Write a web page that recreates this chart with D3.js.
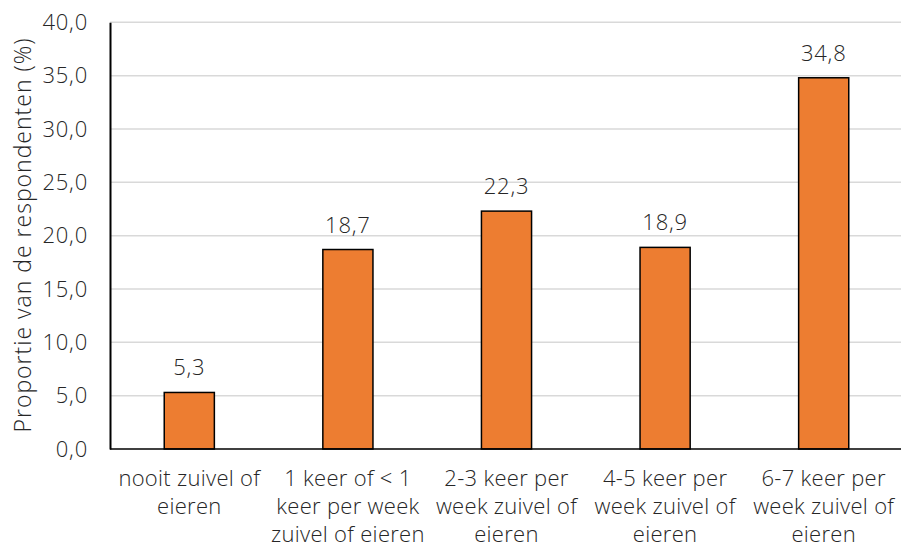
<!DOCTYPE html>
<html><head><meta charset="utf-8">
<script src="https://cdn.jsdelivr.net/npm/d3@7/dist/d3.min.js"></script>
<style>body{margin:0;background:#fff;} text{font-family:"Open Sans",sans-serif;fill:#262626;font-weight:300;}</style>
</head><body><svg id="c" width="901" height="548"></svg>
<script>
const categories = [
  ["nooit zuivel of","eieren"],
  ["1 keer of < 1","keer per week","zuivel of eieren"],
  ["2-3 keer per","week zuivel of","eieren"],
  ["4-5 keer per","week zuivel of","eieren"],
  ["6-7 keer per","week zuivel of","eieren"]
];
const values = [5.3, 18.7, 22.3, 18.9, 34.8];
const yTicks = [0,5,10,15,20,25,30,35,40];
const yTitle = "Proportie van de respondenten (%)";

const svg = d3.select("#c");
const fmt = v => d3.format(".1f")(v).replace(".", ",");
const x = d3.scaleBand().domain(d3.range(values.length)).range([110, 903]).paddingInner(0.684).paddingOuter(0.342);
const y = d3.scaleLinear().domain([0,40]).range([449, 22.3]);

svg.append("g").selectAll("line").data(yTicks.filter(d=>d>0)).join("line")
  .attr("x1",110).attr("x2",901).attr("y1",d=>y(d)).attr("y2",d=>y(d))
  .attr("stroke","#d9d9d9").attr("stroke-width",1.5);

const ya = svg.append("g").attr("transform","translate(110,0)")
  .call(d3.axisLeft(y).tickValues(yTicks).tickFormat(fmt).tickSize(0).tickPadding(22));
ya.select(".domain").attr("stroke","#000").attr("stroke-width",2);
ya.selectAll("text").style("font-size","22px").style("font-family","'Open Sans',sans-serif")
  .style("font-weight","300").style("letter-spacing","0.8px").attr("fill","#262626");

svg.append("g").selectAll("rect").data(values).join("rect")
  .attr("x",(d,i)=>x(i)).attr("width",x.bandwidth())
  .attr("y",d=>y(d)).attr("height",d=>y(0)-y(d))
  .attr("fill","#ED7D31").attr("stroke","#000").attr("stroke-width",1.5);

svg.append("line").attr("x1",110).attr("x2",901).attr("y1",y(0)).attr("y2",y(0))
  .attr("stroke","#000").attr("stroke-width",1.5);

svg.append("g").selectAll("text").data(values).join("text")
  .attr("x",(d,i)=>x(i)+x.bandwidth()/2).attr("y",d=>y(d)-17)
  .attr("text-anchor","middle").style("font-size","22px").style("letter-spacing","0.8px").text(fmt);

const cl = svg.append("g").selectAll("text").data(categories).join("text")
  .attr("x",(d,i)=>x(i)+x.bandwidth()/2).attr("y",486)
  .attr("text-anchor","middle").style("font-size","22px").style("letter-spacing","0.3px");
cl.selectAll("tspan").data(d=>d).join("tspan")
  .attr("x",function(){return this.parentNode.getAttribute("x");})
  .attr("dy",(d,i)=>i===0?0:28).text(d=>d);

svg.append("text").attr("transform","translate(31,235) rotate(-90)")
  .attr("text-anchor","middle").style("font-size","23px").style("letter-spacing","1px").text(yTitle);
</script></body></html>
